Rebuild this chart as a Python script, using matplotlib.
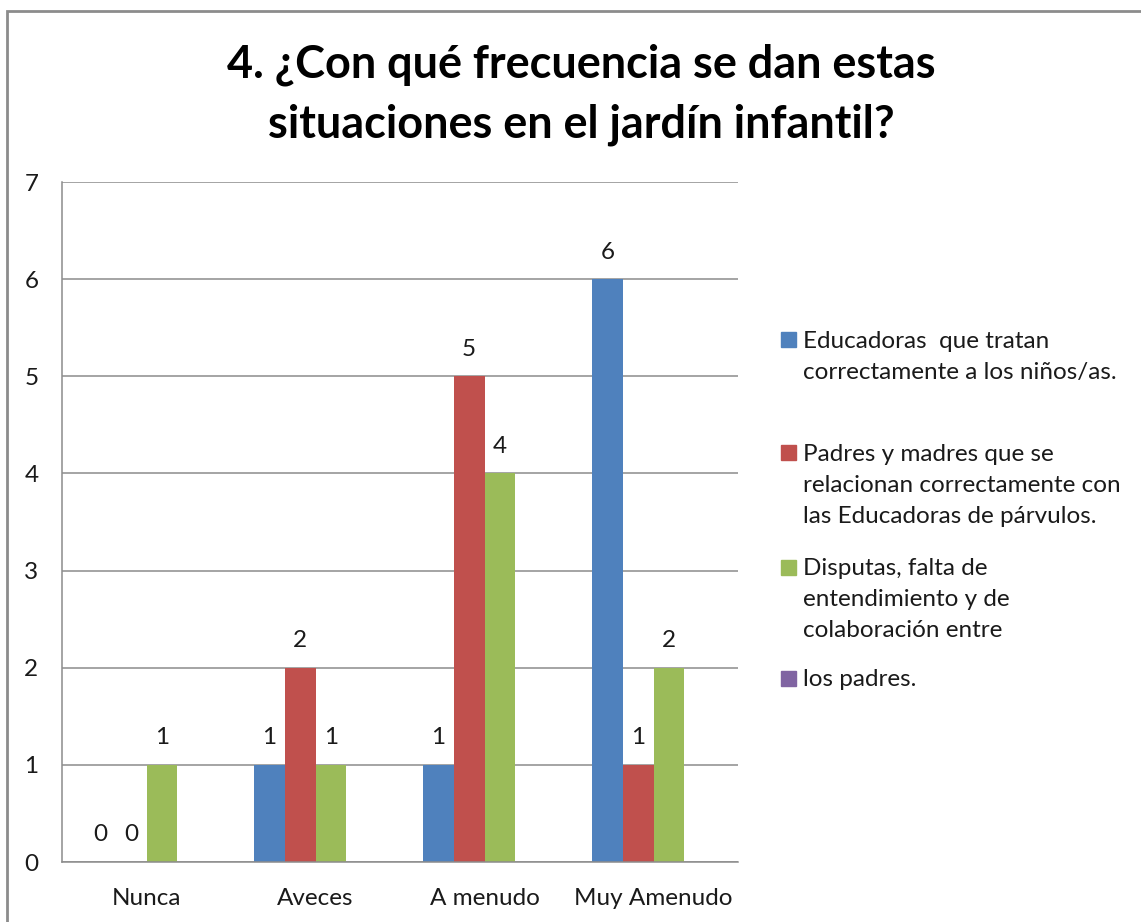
import numpy as np
import matplotlib
matplotlib.use('agg')
import matplotlib.pyplot as plt
from matplotlib.patches import Rectangle

plt.rcParams['font.family'] = ['Lato', 'DejaVu Sans']

categories = ['Nunca', 'Aveces', 'A menudo', 'Muy Amenudo']
educadoras = [0, 1, 1, 6]
padres = [0, 2, 5, 1]
disputas = [1, 1, 4, 2]
los_padres = [None, None, None, None]   # series in legend, no values shown

labels = ['Educadoras  que tratan\ncorrectamente a los niños/as.',
          'Padres y madres que se\nrelacionan correctamente con\nlas Educadoras de párvulos.',
          'Disputas, falta de\nentendimiento y de\ncolaboración entre',
          'los padres.']
colors = ['#4F81BD', '#C0504D', '#9BBB59', '#8064A2']
series = [educadoras, padres, disputas, los_padres]
title = '4. ¿Con qué frecuencia se dan estas\nsituaciones en el jardín infantil?'

fs = 17.5
W, H = 1141, 922
fig = plt.figure(figsize=(W/100, H/100), dpi=100)
ax = fig.add_axes([62/W, 60/H, 676/W, 680/H])

nser = len(series)
bw = 1.0/(nser + 1.5)
x = np.arange(len(categories))
for i, (vals, c) in enumerate(zip(series, colors)):
    off = (i - (nser-1)/2.0)*bw
    for j, v in enumerate(vals):
        if v is None:
            continue
        ax.bar(x[j]+off, v, width=bw, color=c, linewidth=0)
        ax.annotate('%d' % v, (x[j]+off, v), xytext=(0, 19.5), textcoords='offset points',
                    ha='center', va='center', fontsize=fs, color='#1a1a1a')

ax.set_xlim(-0.5, len(categories)-0.5)
ax.set_ylim(0, 7)
ax.set_yticks(range(8))
ax.set_xticks(x)
ax.set_xticklabels(categories)
ax.tick_params(axis='both', length=0, labelsize=fs, colors='#1a1a1a')
ax.tick_params(axis='y', pad=17)
ax.tick_params(axis='x', pad=19)
ax.grid(axis='y', color='#8c8c8c', linewidth=1.1)
ax.set_axisbelow(True)
for s in ['top', 'right']:
    ax.spines[s].set_visible(False)
for s in ['left', 'bottom']:
    ax.spines[s].set_color('#8c8c8c')
    ax.spines[s].set_linewidth(1.1)

fig.text(581/W, 1-95/H, title, ha='center', va='center', fontsize=32.4,
         fontweight='bold', linespacing=1.5, color='black')

# legend drawn by hand so the markers line up with the first text line
ytops = [340, 453, 567, 678]
for lab, c, yt in zip(labels, colors, ytops):
    fig.patches.append(Rectangle((781/W, 1-(yt+7.5)/H), 15/W, 15/H,
                                 transform=fig.transFigure, color=c))
    fig.text(803/W, 1-(yt-9)/H, lab, ha='left', va='top', fontsize=fs,
             linespacing=1.6, color='#1a1a1a')

# outer chart border
fig.patches.append(Rectangle((7/W, -0.05), 1.1, 1-11/H+0.05, transform=fig.transFigure,
                             fill=False, edgecolor='#8c8c8c', linewidth=2))

plt.savefig('out.png', dpi=100)
